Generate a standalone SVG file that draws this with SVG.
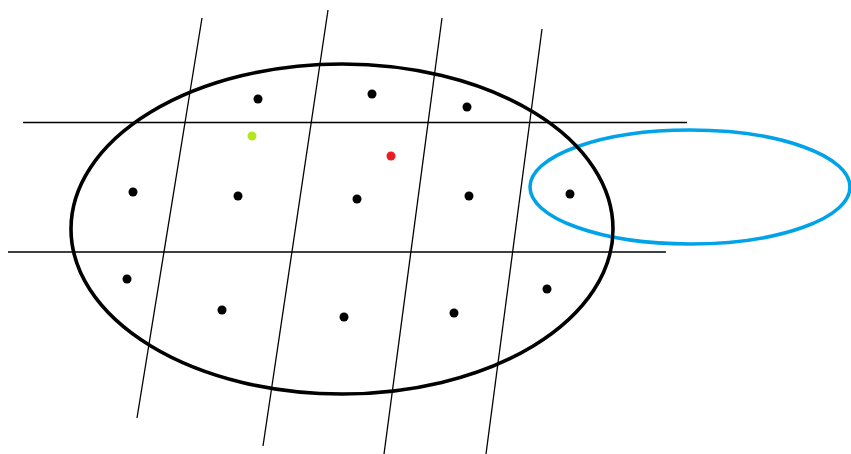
<svg xmlns="http://www.w3.org/2000/svg" width="851" height="454" viewBox="0 0 851 454">
<style>
.grid{stroke:#000;stroke-width:1.3;fill:none}
.dot{fill:#000}
</style>
<rect width="851" height="454" fill="#fff"/>
<g id="blue-ellipse"><ellipse cx="690" cy="187" rx="160" ry="57" fill="none" stroke="#00a2e8" stroke-width="3.6"/></g>
<g id="lines">
<line class="grid" x1="23" y1="122.5" x2="687" y2="122.5"/>
<line class="grid" x1="8" y1="252" x2="666" y2="252"/>
<line class="grid" x1="202" y1="18" x2="137" y2="418"/>
<line class="grid" x1="328" y1="10" x2="263" y2="446"/>
<line class="grid" x1="442" y1="18" x2="384" y2="454"/>
<line class="grid" x1="542" y1="29" x2="486" y2="454"/>
</g>
<g id="black-ellipse"><ellipse cx="342" cy="229" rx="271" ry="165" fill="none" stroke="#000" stroke-width="3.6"/></g>
<g id="dots">
<circle class="dot" cx="258" cy="99" r="4.5"/>
<circle class="dot" cx="372" cy="94" r="4.5"/>
<circle class="dot" cx="467" cy="107" r="4.5"/>
<circle class="dot" cx="133" cy="192" r="4.5"/>
<circle class="dot" cx="238" cy="196" r="4.5"/>
<circle class="dot" cx="357" cy="199" r="4.5"/>
<circle class="dot" cx="469" cy="196" r="4.5"/>
<circle class="dot" cx="570" cy="194" r="4.5"/>
<circle class="dot" cx="127" cy="279" r="4.5"/>
<circle class="dot" cx="222" cy="310" r="4.5"/>
<circle class="dot" cx="344" cy="317" r="4.5"/>
<circle class="dot" cx="454" cy="313" r="4.5"/>
<circle class="dot" cx="547" cy="289" r="4.5"/>
<circle cx="252" cy="136" r="4.5" fill="#b5e61d"/>
<circle cx="391" cy="156" r="4.5" fill="#ed1c24"/>
</g>
</svg>
